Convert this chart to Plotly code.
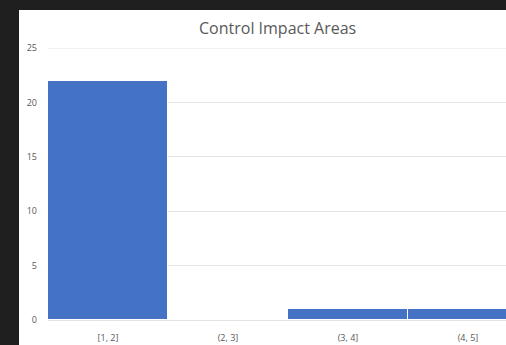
import plotly.graph_objects as go

# Histogram bins and counts
bins = ["[1, 2]", "(2, 3]", "(3, 4]", "(4, 5]"]
counts = [22, 0, 1, 1]
y_ticks = [0, 5, 10, 15, 20, 25]

W, H = 506, 345
ML, MR, MT, MB = 48, 0, 48, 25
pw, ph = W - ML - MR, H - MT - MB
GRID = "#e3e3e3"
FRAME = "#1f1f1f"

def px_x(x):
    return (x - ML) / pw

def px_y(y):
    return (H - MB - y) / ph

fig = go.Figure(
    go.Bar(
        x=bins,
        y=counts,
        marker=dict(color="#4472C4", line=dict(color="#ffffff", width=1)),
        width=1.0,
    )
)

# dark frame strips along the top and left of the white chart area
fig.add_shape(
    type="rect", xref="paper", yref="paper",
    x0=px_x(-5), x1=px_x(W + 5), y0=px_y(10), y1=px_y(-5),
    fillcolor=FRAME, line=dict(width=0), layer="below",
)
fig.add_shape(
    type="rect", xref="paper", yref="paper",
    x0=px_x(-5), x1=px_x(19), y0=px_y(H + 5), y1=px_y(-5),
    fillcolor=FRAME, line=dict(width=0), layer="below",
)
# top gridline at the range maximum
fig.add_shape(
    type="line", xref="paper", yref="y",
    x0=0, x1=1, y0=25, y1=25,
    line=dict(color=GRID, width=1), layer="below",
)

fig.add_annotation(
    text="Control Impact Areas", xref="paper", yref="paper",
    x=px_x(277), y=px_y(28), showarrow=False,
    font=dict(size=16, color="#595959", family="Open Sans"),
    xanchor="center", yanchor="middle",
)

fig.update_layout(
    width=W, height=H,
    margin=dict(l=ML, r=MR, t=MT, b=MB, pad=0),
    paper_bgcolor="#ffffff",
    plot_bgcolor="#ffffff",
    bargap=0,
    showlegend=False,
    font=dict(family="Open Sans", size=9, color="#595959"),
)
fig.update_xaxes(
    type="category",
    range=[-0.5, -0.5 + pw / 120],
    showgrid=False,
    showline=False,
    ticks="",
    tickfont=dict(size=9, color="#595959"),
    ticklabelstandoff=11,
)
fig.update_yaxes(
    range=[0, 25],
    tickvals=y_ticks,
    showgrid=True,
    gridcolor=GRID,
    gridwidth=1,
    zeroline=True,
    zerolinecolor=GRID,
    zerolinewidth=1,
    showline=False,
    ticks="",
    tickfont=dict(size=9, color="#595959"),
    ticklabelstandoff=10,
)

fig.write_html("out.html", config={"displayModeBar": False})
